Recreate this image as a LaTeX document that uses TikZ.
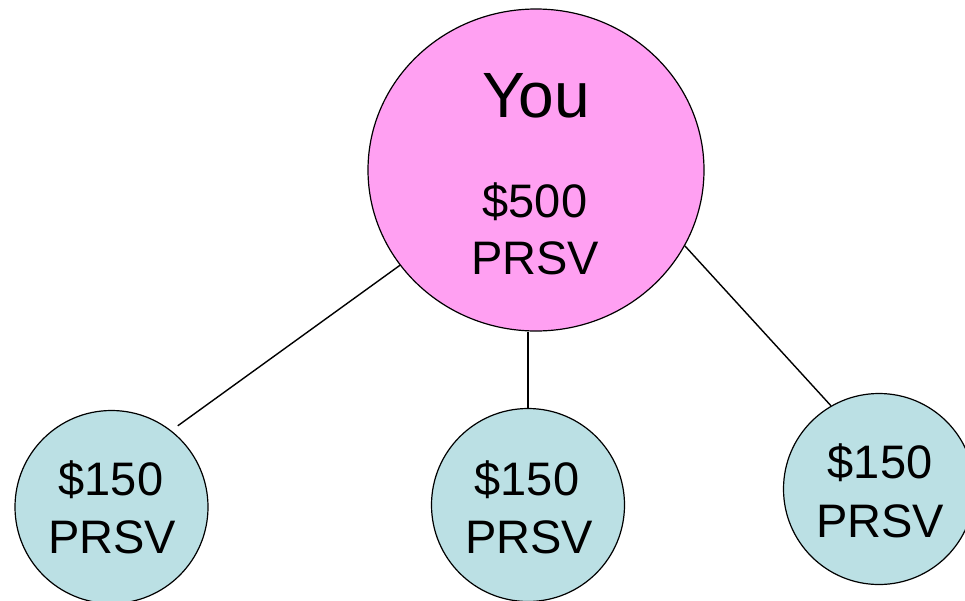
\documentclass[tikz,border=0pt]{standalone}
\usepackage{fontspec}
\setmainfont{Liberation Sans}
\usetikzlibrary{shapes.geometric}
\definecolor{youpink}{HTML}{FFA0F2}
\definecolor{leafblue}{HTML}{BBE0E4}
\begin{document}
\begin{tikzpicture}[x=1pt,y=-1pt,
  rootshape/.style={ellipse, draw=black, line width=1.2pt, fill=youpink,
    minimum width=336pt, minimum height=322pt, inner sep=0pt},
  leafshape/.style={circle, draw=black, line width=1.2pt, fill=leafblue,
    minimum size=193pt, inner sep=0pt},
  bigtext/.style={anchor=base, inner sep=0pt, font=\fontsize{64}{70}\selectfont},
  midtext/.style={anchor=base, inner sep=0pt, font=\fontsize{47}{56}\selectfont},
  link/.style={draw=black, line width=1.4pt}]
\useasboundingbox (0,0) rectangle (965,600);

% tree shapes
\node[rootshape] (you) at (536,170) {};
\node[leafshape] (left) at (111.5,507) {};
\node[leafshape] (mid) at (528,505) {};
\node[leafshape, minimum size=191pt] (right) at (879,489) {};

% connectors
\draw[link, shorten >=8pt] (you.215.5) -- (left.52);
\draw[link] (mid.north |- you.south) -- (mid.north);
\draw[link] (you.-27.8) -- (right.120.4);

% labels
\node[bigtext] (youname) at (536,117) {You};
\node[midtext] (youamt) at (535,217) {\$500};
\node[midtext] (youunit) at (535,274) {PRSV};

\node[midtext] (leftamt) at (111,495) {\$150};
\node[midtext] (leftunit) at (112,553) {PRSV};

\node[midtext] (midamt) at (527,495) {\$150};
\node[midtext] (midunit) at (529,553) {PRSV};

\node[midtext] (rightamt) at (880,478) {\$150};
\node[midtext] (rightunit) at (880,537) {PRSV};
\end{tikzpicture}
\end{document}
